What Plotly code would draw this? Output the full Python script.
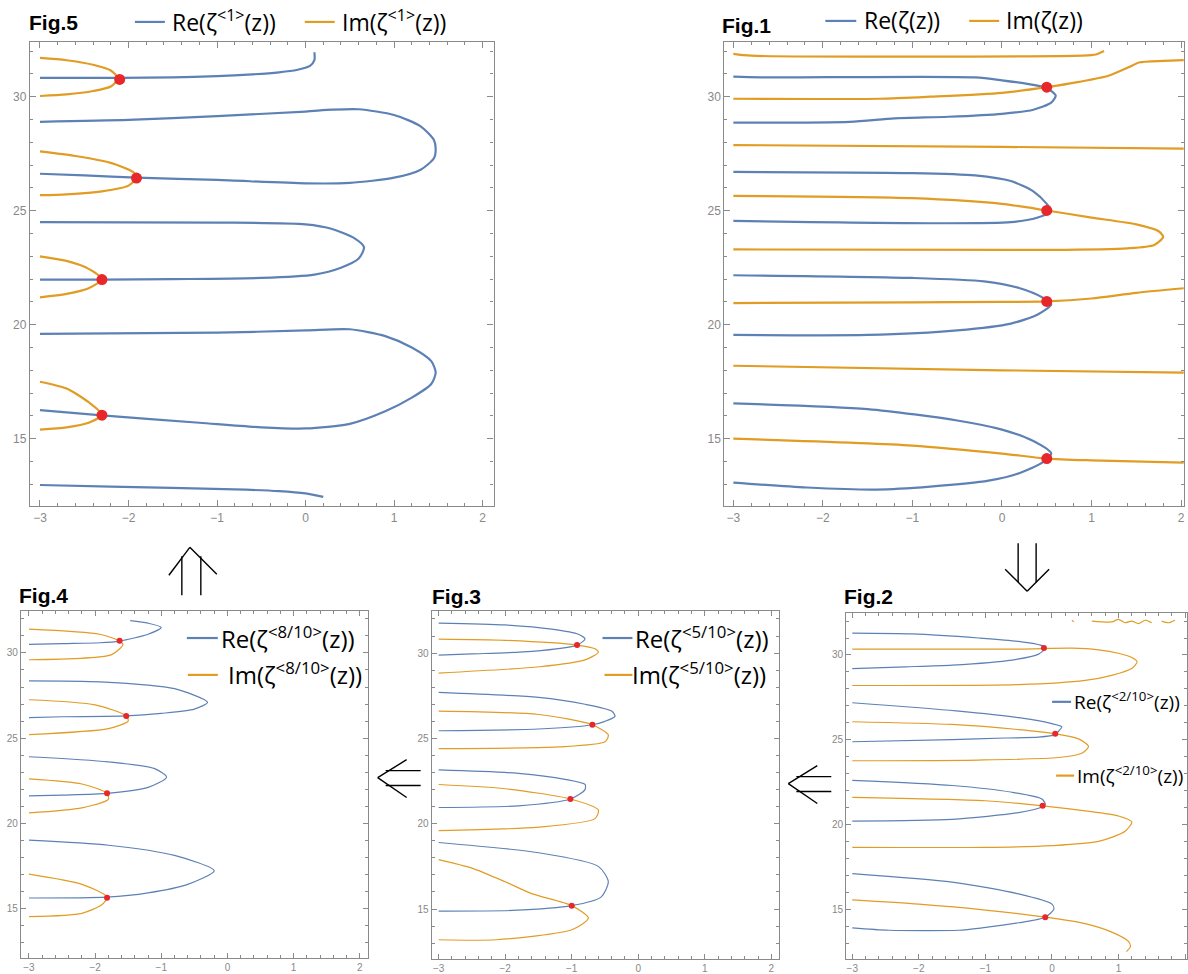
import plotly.graph_objects as go

W, H = 1188, 974
BLUE = "#5E81B5"
ORANGE = "#E19C24"
RED = "#E8272A"
N = None

# ---------------- Fig.5 data ----------------
fig5_re_x = [-3, -2.5, -2.1, -1.5, -1.0, -0.6, -0.3, -0.1, 0.05, 0.1, 0.1, N,
             -3, -2, -1, 0, 0.3, 0.6, 1.0, 1.3, 1.45, 1.47, 1.45, 1.3, 1.0, 0.5, 0, -1, -1.91, -2.5, -3, N,
             -3, -1, 0, 0.3, 0.55, 0.66, 0.6, 0.4, 0.1, -0.5, -1.5, -2.3, -3, N,
             -3, -1, 0, 0.5, 0.9, 1.2, 1.42, 1.47, 1.42, 1.2, 0.9, 0.5, 0, -0.5, -1.2, -2.3, -3, N,
             -3, -2.2, -0.8, -0.3, 0, 0.2]
fig5_re_y = [30.83, 30.83, 30.83, 30.85, 30.9, 30.98, 31.07, 31.17, 31.35, 31.6, 31.95, N,
             28.9, 28.98, 29.15, 29.35, 29.43, 29.45, 29.2, 28.7, 28.1, 27.7, 27.3, 26.8, 26.45, 26.22, 26.2, 26.35, 26.45, 26.55, 26.62, N,
             24.5, 24.48, 24.4, 24.2, 23.8, 23.4, 22.9, 22.5, 22.2, 22.05, 22.0, 21.98, 21.98, N,
             19.6, 19.65, 19.75, 19.8, 19.5, 19.0, 18.4, 17.9, 17.4, 16.8, 16.2, 15.65, 15.45, 15.5, 15.7, 16.02, 16.25, N,
             12.97, 12.9, 12.78, 12.7, 12.6, 12.45]
fig5_im_x = [-3, -2.7, -2.4, -2.2, -2.12, -2.2, -2.4, -2.7, -3, N,
             -3, -2.6, -2.2, -1.95, -1.91, -2.0, -2.3, -2.7, -3, N,
             -3, -2.7, -2.45, -2.3, -2.45, -2.7, -3, N,
             -3, -2.7, -2.45, -2.3, -2.45, -2.7, -3]
fig5_im_y = [31.7, 31.6, 31.4, 31.15, 30.8, 30.45, 30.25, 30.1, 30.03, N,
             27.6, 27.4, 27.1, 26.7, 26.45, 26.1, 25.85, 25.72, 25.68, N,
             23.0, 22.8, 22.45, 22.0, 21.6, 21.35, 21.2, N,
             17.5, 17.2, 16.6, 16.05, 15.7, 15.5, 15.4]
fig5_zero_x = [-2.1, -1.91, -2.3, -2.3]
fig5_zero_y = [30.76, 26.43, 21.98, 16.03]

# ---------------- Fig.1 data ----------------
fig1_re_x = [-3, -2.7, -0.3, 0, 0.3, 0.5, 0.6, 0.55, 0.35, 0, -0.6, -1.2, -1.7, -3, N,
             -3, -1, -0.3, 0.1, 0.35, 0.5, 0.55, 0.4, 0.1, -0.7, -3, N,
             -3, -1, -0.2, 0.2, 0.45, 0.55, 0.4, 0.1, -0.5, -1.5, -3, N,
             -3, -1.5, -0.5, 0, 0.35, 0.55, 0.45, 0.2, -0.15, -0.8, -1.4, -2.18, -3]
fig1_re_y = [30.88, 30.85, 30.85, 30.72, 30.55, 30.38, 30.05, 29.74, 29.43, 29.25, 29.12, 29.05, 28.9, 28.86, N,
             26.7, 26.65, 26.55, 26.3, 25.85, 25.3, 25.0, 24.7, 24.5, 24.45, 24.55, N,
             22.17, 22.05, 21.9, 21.6, 21.2, 20.9, 20.45, 20.05, 19.75, 19.55, 19.55, N,
             16.55, 16.3, 15.8, 15.4, 14.9, 14.35, 13.95, 13.5, 13.16, 12.9, 12.77, 12.86, 13.07]
fig1_im_x = [-3, -2.8, 0.9, 1.05, 1.14, N,
             -3, -1.37, -0.8, 0, 0.5, 0.86, 1.19, 1.42, 1.53, 1.8, 2.03, N,
             -3, 0, 2.03, N,
             -3, -1, 0, 0.5, 1.0, 1.5, 1.75, 1.8, 1.7, 1.4, 0.5, -3, N,
             -3, -1, 0, 0.5, 1, 1.5, 2.03, N,
             -3, 0, 2.03, N,
             -3, -1, 0, 0.5, 1, 2.03]
fig1_im_y = [31.88, 31.8, 31.8, 31.85, 32.0, N,
             29.91, 29.91, 30.0, 30.17, 30.42, 30.65, 30.92, 31.3, 31.5, 31.57, 31.6, N,
             27.88, 27.8, 27.72, N,
             25.65, 25.55, 25.3, 25.01, 24.7, 24.4, 24.1, 23.85, 23.5, 23.35, 23.28, 23.3, N,
             20.95, 20.98, 21.0, 21.02, 21.15, 21.4, 21.6, N,
             18.2, 18.0, 17.9, N,
             15.0, 14.7, 14.35, 14.13, 14.05, 13.95]
fig1_zero_x = [0.5, 0.5, 0.5, 0.5]
fig1_zero_y = [30.42, 25.01, 21.02, 14.13]

# ---------------- Fig.2 data ----------------
fig2_re_x = [-3, -2.1, -1.1, -0.5, -0.15, -0.1, -0.2, -0.6, -1.5, -2.2, -3, N,
             -3, -1.44, -0.5, 0, 0.15, 0.1, 0.05, -0.2, -0.7, -1.5, -3, N,
             -3, -1.5, -0.6, -0.15, -0.1, -0.14, -0.5, -1.5, -3, N,
             -3, -1.5, -0.5, 0, 0.03, -0.1, -0.5, -1.05, -1.4, -2.45, -3]
fig2_re_y = [31.29, 31.24, 31.0, 30.8, 30.55, 30.4, 30.05, 29.7, 29.4, 29.3, 29.2, N,
             27.18, 26.7, 26.3, 25.95, 25.76, 25.5, 25.3, 25.15, 25.1, 25.0, 24.88, N,
             22.6, 22.3, 21.9, 21.5, 21.2, 21.05, 20.7, 20.3, 20.2, N,
             17.1, 16.6, 15.9, 15.3, 15.0, 14.53, 14.2, 13.9, 13.76, 13.76, 13.9]
fig2_im_x = [0.3, 0.33, N, 0.6, 0.9, 1.0, 1.1, 1.2, 1.3, 1.4, 1.5, N, 1.65, 1.75, 1.85, N,
             -3, -0.5, 0.3, 0.7, 1.0, 1.2, 1.28, 1.2, 0.9, 0.5, -0.5, -3, N,
             -3, -1.5, -0.5, 0.05, 0.4, 0.55, 0.45, 0.1, -1.1, -3, N,
             -3, -1, -0.14, 0.5, 1.0, 1.2, 1.1, 0.7, 0, -1, -3, N,
             -3, -2, -1, -0.1, 0.5, 0.9, 1.15, 1.18, 1.12]
fig2_im_y = [32.05, 31.95, N, 32.0, 31.95, 32.1, 31.9, 32.0, 31.85, 32.05, 31.9, N, 32.0, 31.9, 32.05, N,
             30.35, 30.35, 30.4, 30.3, 30.1, 29.85, 29.6, 29.2, 28.8, 28.5, 28.25, 28.2, N,
             26.06, 25.9, 25.6, 25.35, 25.05, 24.6, 24.2, 23.95, 23.8, 23.76, N,
             21.6, 21.4, 21.1, 20.8, 20.5, 20.15, 19.6, 19.0, 18.75, 18.65, 18.65, N,
             15.55, 15.3, 14.95, 14.53, 14.15, 13.65, 13.1, 12.8, 12.5]
fig2_zero_x = [-0.12, 0.05, -0.14, -0.1]
fig2_zero_y = [30.41, 25.35, 21.1, 14.53]

# ---------------- Fig.3 data ----------------
fig3_re_x = [-3, -2, -1.3, -0.9, -0.8, -0.92, -1.6, -2.5, -3, N,
             -3, -1.5, -0.8, -0.4, -0.35, -0.5, -0.69, -1.5, -3, N,
             -3, -1.8, -1.1, -0.8, -0.8, -1.02, -1.8, -3, N,
             -3, -1.5, -0.6, -0.45, -0.56, -1.0, -1.89, -3]
fig3_re_y = [31.76, 31.65, 31.4, 31.1, 30.82, 30.47, 30.1, 29.95, 29.88, N,
             27.7, 27.4, 27.0, 26.6, 26.3, 26.0, 25.8, 25.55, 25.45, N,
             23.15, 22.95, 22.6, 22.3, 22.0, 21.45, 21.05, 20.95, N,
             18.9, 18.3, 17.5, 16.6, 15.7, 15.2, 14.92, 14.88]
fig3_im_x = [-3, -2, -0.92, -0.65, -0.6, -0.8, -1.48, -3, N,
             -3, -1.5, -0.69, -0.45, -0.5, -1.2, -3, N,
             -3, -2, -1.02, -0.6, -0.65, -1.5, -3, N,
             -3, -2.5, -2.0, -1.6, -1.0, -0.75, -0.99, -2.13, -3]
fig3_im_y = [30.82, 30.75, 30.47, 30.25, 30.05, 29.6, 29.2, 28.83, N,
             26.6, 26.4, 25.8, 25.2, 24.8, 24.5, 24.4, N,
             22.3, 22.05, 21.45, 20.8, 20.3, 19.8, 19.6, N,
             17.9, 17.4, 16.6, 15.9, 15.2, 14.47, 13.8, 13.2, 13.2]
fig3_zero_x = [-0.92, -0.69, -1.02, -1.0]
fig3_zero_y = [30.47, 25.8, 21.45, 15.2]

# ---------------- Fig.4 data ----------------
fig4_re_x = [-1.47, -1.2, -1.0, -1.2, -1.63, -1.93, -2.5, -3, N,
             -3, -1.93, -0.8, -0.3, -0.5, -1.0, -1.53, -2.5, -3, N,
             -3, -1.8, -1.1, -0.92, -1.2, -1.82, -2.5, -3, N,
             -3, -1.8, -0.8, -0.2, -0.6, -1.2, -1.82, -3]
fig4_re_y = [31.9, 31.75, 31.5, 31.1, 30.7, 30.6, 30.55, 30.5, N,
             28.36, 28.3, 27.9, 27.1, 26.7, 26.45, 26.3, 26.25, 26.2, N,
             23.9, 23.6, 23.2, 22.7, 22.1, 21.75, 21.65, 21.6, N,
             19.0, 18.7, 18.1, 17.2, 16.4, 15.9, 15.65, 15.6]
fig4_im_x = [-3, -1.93, -1.63, -1.58, -1.75, -3, N,
             -3, -2, -1.53, -1.5, -1.8, -3, N,
             -3, -2.2, -1.82, -1.8, -2.2, -3, N,
             -3, -2.2, -1.82, -1.9, -2.2, -3]
fig4_im_y = [31.4, 31.1, 30.7, 30.5, 29.9, 29.6, N,
             27.25, 26.95, 26.3, 26.0, 25.55, 25.2, N,
             22.6, 22.3, 21.75, 21.4, 20.9, 20.6, N,
             17.0, 16.4, 15.65, 15.2, 14.7, 14.5]
fig4_zero_x = [-1.63, -1.53, -1.82, -1.82]
fig4_zero_y = [30.72, 26.3, 21.75, 15.62]

X_TICKS = [-3, -2, -1, 0, 1, 2]
X_LABELS = ["\u22123", "\u22122", "\u22121", "0", "1", "2"]
Y_TICKS = [15, 20, 25, 30]

# panel layout: (name, axis suffix, px box [x0, x1, y0, y1], x range, y range, line width, dot size, tick font)
panels = [
    ("fig5", "", [30, 494, 42, 508], [-3.113, 2.124], [12.03, 32.405], 2.2, 11, 12),
    ("fig1", "2", [725, 1185, 42, 508], [-3.10, 2.033], [12.03, 32.405], 2.2, 11, 12),
    ("fig2", "3", [847, 1188, 615, 962], [-3.09, 2.03], [12.06, 32.47], 1.2, 6, 10),
    ("fig3", "4", [432, 780, 613, 962], [-3.105, 2.12], [12.07, 32.46], 1.2, 6, 10),
    ("fig4", "5", [21, 368, 613, 961], [-3.121, 2.12], [12.07, 32.46], 1.2, 6, 10),
]
data = {
    "fig5": (fig5_re_x, fig5_re_y, fig5_im_x, fig5_im_y, fig5_zero_x, fig5_zero_y),
    "fig1": (fig1_re_x, fig1_re_y, fig1_im_x, fig1_im_y, fig1_zero_x, fig1_zero_y),
    "fig2": (fig2_re_x, fig2_re_y, fig2_im_x, fig2_im_y, fig2_zero_x, fig2_zero_y),
    "fig3": (fig3_re_x, fig3_re_y, fig3_im_x, fig3_im_y, fig3_zero_x, fig3_zero_y),
    "fig4": (fig4_re_x, fig4_re_y, fig4_im_x, fig4_im_y, fig4_zero_x, fig4_zero_y),
}

fig = go.Figure()
layout = dict(width=W, height=H, margin=dict(l=0, r=0, t=0, b=0),
              paper_bgcolor="white", plot_bgcolor="white", showlegend=False)

AX = "#8a8a8a"
for name, sfx, box, xr, yr, lw, ds, tf in panels:
    rex, rey, imx, imy, zx, zy = data[name]
    xa, ya = "x" + sfx, "y" + sfx
    fig.add_trace(go.Scatter(x=rex, y=rey, mode="lines",
                             line=dict(color=BLUE, width=lw, shape="spline", smoothing=0.7),
                             xaxis=xa, yaxis=ya, connectgaps=False, hoverinfo="skip"))
    fig.add_trace(go.Scatter(x=imx, y=imy, mode="lines",
                             line=dict(color=ORANGE, width=lw, shape="spline", smoothing=0.7),
                             xaxis=xa, yaxis=ya, connectgaps=False, hoverinfo="skip"))
    fig.add_trace(go.Scatter(x=zx, y=zy, mode="markers", marker=dict(color=RED, size=ds),
                             xaxis=xa, yaxis=ya, hoverinfo="skip"))
    x0, x1, y0, y1 = box
    common = dict(showline=True, linecolor=AX, linewidth=1.2, mirror="ticks", ticks="inside",
                  tickcolor=AX, showgrid=False, zeroline=False,
                  tickfont=dict(color="#888", size=tf, family="Liberation Sans"), fixedrange=True)
    layout["xaxis" + sfx] = dict(domain=[x0 / W, x1 / W], range=xr, anchor=ya,
                                 tickvals=X_TICKS, ticktext=X_LABELS,
                                 ticklen=6 if tf == 12 else 5,
                                 minor=dict(ticks="inside", dtick=0.2, tick0=0, ticklen=3, tickcolor=AX),
                                 **common)
    layout["yaxis" + sfx] = dict(domain=[1 - y1 / H, 1 - y0 / H], range=yr, anchor=xa,
                                 tickvals=Y_TICKS, ticklen=6 if tf == 12 else 5,
                                 minor=dict(ticks="inside", dtick=1, tick0=0, ticklen=3, tickcolor=AX),
                                 **common)

fig.update_layout(**layout)

# ---- titles, legends (paper coordinates from pixels) ----
def P(xp, yp):
    return xp / W, 1 - yp / H

TF = "Liberation Sans"
LF = "Open Sans"
ann = []
shapes = []

def text(xp, yp, s, size, bold=False, color="black", font=LF):
    x, y = P(xp, yp)
    ann.append(dict(x=x, y=y, xref="paper", yref="paper", text=("<b>%s</b>" % s) if bold else s,
                    showarrow=False, xanchor="left", yanchor="middle",
                    font=dict(size=size, color=color, family=font)))

def seg(xa, ya, xb, yb, color="black", width=1.4):
    a, b = P(xa, ya), P(xb, yb)
    shapes.append(dict(type="line", xref="paper", yref="paper", x0=a[0], y0=a[1], x1=b[0], y1=b[1],
                       line=dict(color=color, width=width)))

for xp, yp, t in [(27, 23, "Fig.5"), (721, 26, "Fig.1"), (17, 597, "Fig.4"), (430, 598, "Fig.3"), (843, 598, "Fig.2")]:
    text(xp, yp, t, 21, bold=True, font=TF)

def lab(part, frac):
    return "%s(\u03b6<sup>%s</sup>(z))" % (part, frac)

# Fig.5 legend
seg(135, 22, 165, 22, BLUE, 2.2); text(170, 21, lab("Re", "&lt;1&gt;"), 23)
seg(305, 22, 335, 22, ORANGE, 2.2); text(340, 21, lab("Im", "&lt;1&gt;"), 23)
# Fig.1 legend
seg(826, 21, 857, 21, BLUE, 2.2); text(863, 20, "Re(\u03b6(z))", 23)
seg(970, 21, 1000, 21, ORANGE, 2.2); text(1005, 20, "Im(\u03b6(z))", 23)
# Fig.4 legend
seg(187, 640, 218, 640, BLUE, 2.2); text(219, 639, lab("Re", "&lt;8/10&gt;"), 24)
seg(188, 677, 218, 677, ORANGE, 2.2); text(226, 676, lab("Im", "&lt;8/10&gt;"), 24)
# Fig.3 legend
seg(603, 640, 633, 640, BLUE, 2.2); text(634, 639, lab("Re", "&lt;5/10&gt;"), 24)
seg(605, 677, 633, 677, ORANGE, 2.2); text(631, 676, lab("Im", "&lt;5/10&gt;"), 24)
# Fig.2 legend
seg(1053, 704, 1072, 704, BLUE, 2.2); text(1073, 703, lab("Re", "&lt;2/10&gt;"), 19)
seg(1057, 778, 1075, 778, ORANGE, 2.2); text(1076, 777, lab("Im", "&lt;2/10&gt;"), 19)

# arrows
# down arrow (Fig.1 -> Fig.2)
seg(1019, 545, 1019, 584); seg(1037, 545, 1037, 584)
seg(1006, 571, 1028, 593); seg(1028, 593, 1050, 571)
# left arrow (Fig.2 -> Fig.3)
seg(797, 779, 832, 779); seg(797, 794, 832, 794)
seg(789, 786, 818, 768); seg(789, 786, 818, 806)
# left arrow (Fig.3 -> Fig.4)
seg(386, 773, 421, 773); seg(386, 788, 421, 788)
seg(378, 780, 407, 762); seg(378, 780, 407, 800)
# up arrow (Fig.4 -> Fig.5)
seg(182, 558, 182, 597); seg(201, 558, 201, 597)
seg(169, 577, 190, 549); seg(190, 549, 217, 576)

fig.update_layout(annotations=ann, shapes=shapes)
fig.write_html("out.html")
